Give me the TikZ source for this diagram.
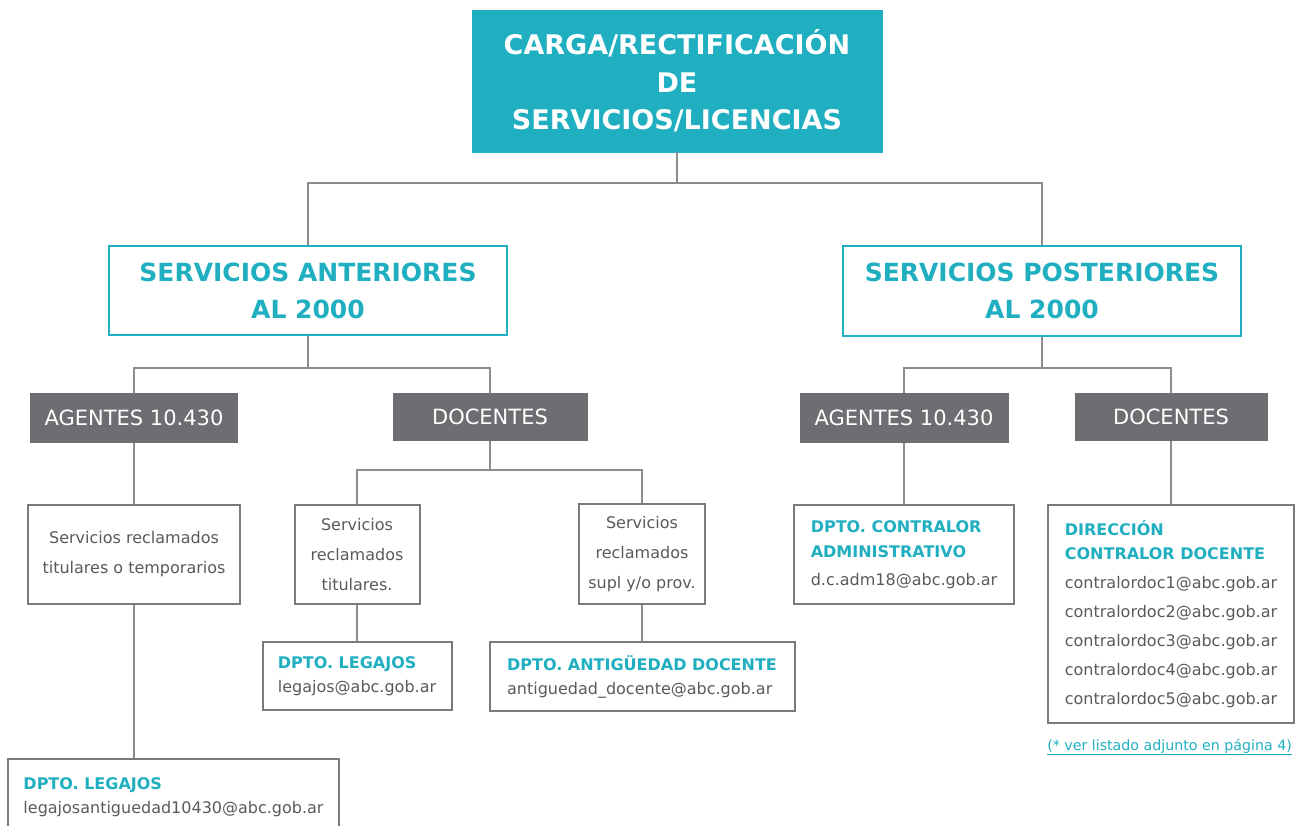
\documentclass[tikz,border=0pt]{standalone}
\usepackage{fontspec}
\setmainfont{DejaVu Sans}
\usepackage{tikz}
\usetikzlibrary{positioning}
\definecolor{celeste}{HTML}{1FAFC1}
\definecolor{grisosc}{HTML}{6D6E71}
\definecolor{linea}{HTML}{8C8C8C}
\definecolor{borde}{HTML}{7A7A7A}
\definecolor{textogris}{HTML}{5A5A5A}
\newcommand{\titdpto}[1]{{\bfseries\color{celeste}#1}}
\tikzset{
  raiz/.style={fill=celeste,draw=celeste,text=white,font=\fontsize{27}{37.5}\selectfont\bfseries,align=center,inner sep=0pt},
  rama/.style={draw=celeste,line width=2pt,fill=white,text=celeste,font=\fontsize{25}{37}\selectfont\bfseries,align=center,inner sep=0pt},
  grupo/.style={fill=grisosc,text=white,font=\fontsize{21}{25}\selectfont,inner sep=0pt},
  caja/.style={draw=borde,line width=2pt,fill=white,text=textogris,font=\fontsize{16}{30}\selectfont,align=center,inner sep=0pt},
  dpto/.style={draw=borde,line width=2pt,fill=white,text=textogris,font=\fontsize{16}{24}\selectfont,align=left,inner sep=0pt},
  conector/.style={draw=linea,line width=2pt}
}
\begin{document}
\begin{tikzpicture}[x=1pt,y=-1pt]
        \useasboundingbox (0,0) rectangle (1298,825);
        %raiz
        \node[raiz,minimum width=410pt,minimum height=142pt] (carga) at (677,81) {CARGA/RECTIFICACIÓN\\DE\\SERVICIOS/LICENCIAS};
        %ramas
        \node[rama,minimum width=398pt,minimum height=89pt] (ant) at (308,290.5) {SERVICIOS ANTERIORES\\AL 2000};
        \node[rama,minimum width=398pt,minimum height=90pt] (post) at (1042,290.5) {SERVICIOS POSTERIORES\\AL 2000};
        %grupos
        \node[grupo,minimum width=208pt,minimum height=50pt] (ag1) at (134,418) {AGENTES 10.430};
        \node[grupo,minimum width=195pt,minimum height=48pt] (doc1) at (490,417) {DOCENTES};
        \node[grupo,minimum width=209pt,minimum height=50pt] (ag2) at (904,418) {AGENTES 10.430};
        \node[grupo,minimum width=193pt,minimum height=48pt] (doc2) at (1171,417) {DOCENTES};
        %servicios reclamados
        \node[caja,minimum width=212pt,minimum height=99pt] (temp) at (134,554.5) {Servicios reclamados\\titulares o temporarios};
        \node[caja,minimum width=125pt,minimum height=99pt] (tit) at (357,554.5) {Servicios\\reclamados\\titulares.};
        \node[caja,minimum width=126pt,minimum height=100pt] (sup) at (642,554) {Servicios\\reclamados\\supl y/o prov.};
        %departamentos
        \node[dpto,minimum width=189pt,minimum height=68pt] (leg1) at (357,676) {\titdpto{DPTO. LEGAJOS}\\legajos@abc.gob.ar};
        \node[dpto,minimum width=305pt,minimum height=69pt] (ant2) at (642,676.5) {\titdpto{DPTO. ANTIGÜEDAD DOCENTE}\\antiguedad\_docente@abc.gob.ar};
        \node[dpto,minimum width=331pt,minimum height=76pt] (leg2) at (173.5,797) {\titdpto{DPTO. LEGAJOS}\\legajosantiguedad10430@abc.gob.ar};
        \node[dpto,minimum width=220pt,minimum height=99pt] (cadm) at (904,554.5) {\titdpto{DPTO. CONTRALOR}\\[1pt]\titdpto{ADMINISTRATIVO}\\[4pt]d.c.adm18@abc.gob.ar};
        \node[dpto,font=\fontsize{16}{29}\selectfont,minimum width=246pt,minimum height=218pt] (dcd) at (1171,614) {\titdpto{DIRECCIÓN}\\[-5pt]\titdpto{CONTRALOR DOCENTE}\\contralordoc1@abc.gob.ar\\contralordoc2@abc.gob.ar\\contralordoc3@abc.gob.ar\\contralordoc4@abc.gob.ar\\contralordoc5@abc.gob.ar};
        \node[anchor=base east,text=celeste,font=\fontsize{14.2}{18}\selectfont,inner sep=0pt] (nota) at (1292,750) {\underline{(* ver listado adjunto en página 4)}};
        %conectores
        \draw[conector] (carga.south) -- ++(0,31) -| (ant.north);
        \draw[conector] (carga.south) -- ++(0,31) -| (post.north);
        \draw[conector] (ant.south) -- ++(0,32) -| (ag1.north);
        \draw[conector] (ant.south) -- ++(0,32) -| (doc1.north);
        \draw[conector] (post.south) -- ++(0,31.5) -| (ag2.north);
        \draw[conector] (post.south) -- ++(0,31.5) -| (doc2.north);
        \draw[conector] (doc1.south) -- ++(0,29) -| (tit.north);
        \draw[conector] (doc1.south) -- ++(0,29) -| (sup.north);
        \draw[conector] (ag1.south) -- (temp.north);
        \draw[conector] (temp.south) -- (temp.south |- leg2.north);
        \draw[conector] (tit.south) -- (leg1.north);
        \draw[conector] (sup.south) -- (ant2.north);
        \draw[conector] (ag2.south) -- (cadm.north);
        \draw[conector] (doc2.south) -- (dcd.north);
\end{tikzpicture}
\end{document}
